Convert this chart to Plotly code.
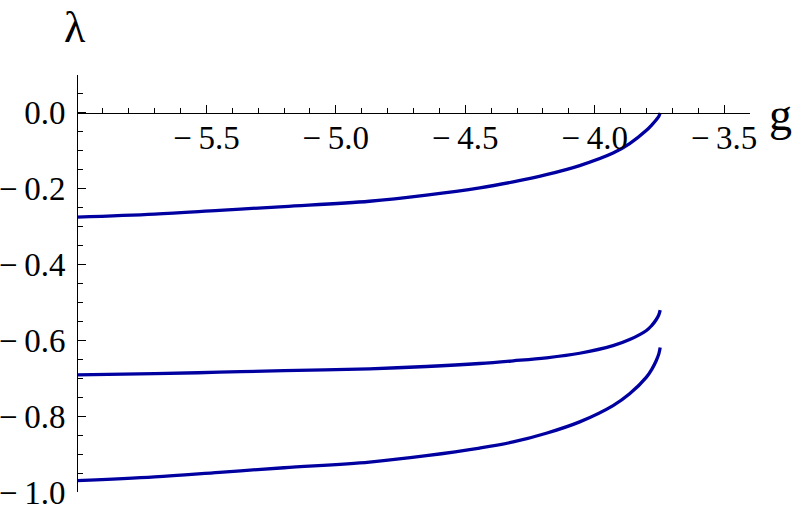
import plotly.graph_objects as go

# Data
g_vals = [-6.0, -5.7, -5.45, -5.2, -4.87, -4.65, -4.444, -4.315, -4.187,
          -4.058, -3.929, -3.865, -3.800, -3.780, -3.762, -3.752, -3.747]

lam1 = [-0.275, -0.267, -0.257, -0.247, -0.233, -0.217, -0.198, -0.182, -0.163,
        -0.139, -0.106, -0.081, -0.046, -0.032, -0.018, -0.009, 0.0]
lam2 = [-0.691, -0.688, -0.684, -0.680, -0.675, -0.669, -0.661, -0.654, -0.646,
        -0.634, -0.614, -0.598, -0.574, -0.561, -0.545, -0.532, -0.520]
lam3 = [-0.970, -0.960, -0.948, -0.936, -0.921, -0.904, -0.884, -0.868, -0.845,
        -0.815, -0.772, -0.741, -0.697, -0.677, -0.653, -0.635, -0.619]

x_tickvals = [-5.5, -5.0, -4.5, -4.0, -3.5]
x_ticktext = ["\u2212\u20095.5", "\u2212\u20095.0", "\u2212\u20094.5", "\u2212\u20094.0", "\u2212\u20093.5"]
y_tickvals = [0.0, -0.2, -0.4, -0.6, -0.8, -1.0]
y_ticktext = ["0.0", "\u2212\u20090.2", "\u2212\u20090.4", "\u2212\u20090.6", "\u2212\u20090.8", "\u2212\u20091.0"]

x_range = [-6.0, -3.4]
y_range = [-1.0, 0.1]

color = "#0000a0"
font_family = "Times New Roman, Liberation Serif, serif"

fig = go.Figure()
for ly in [lam1, lam2, lam3]:
    fig.add_trace(go.Scatter(x=g_vals, y=ly, mode="lines",
                             line=dict(color=color, width=3.3, shape="spline", smoothing=1.0),
                             hoverinfo="skip", showlegend=False))

x_pos = (0 - y_range[0]) / (y_range[1] - y_range[0])

fig.update_layout(
    width=797, height=512,
    margin=dict(l=77, r=47, t=75, b=20, pad=0, autoexpand=False),
    paper_bgcolor="white", plot_bgcolor="white",
    font=dict(family=font_family, color="black", size=33),
    xaxis=dict(range=x_range, anchor="free", position=x_pos,
               showline=True, linecolor="black", linewidth=1,
               showgrid=False, zeroline=False, automargin=False,
               tickvals=x_tickvals, ticktext=x_ticktext,
               ticks="inside", ticklen=8, tickcolor="black", tickwidth=1,
               minor=dict(dtick=0.1, tick0=-6.0, ticks="inside", ticklen=5,
                          tickcolor="black", tickwidth=1),
               ticklabeloverflow="allow",
               tickfont=dict(family=font_family, size=33), ticklabelstandoff=-5),
    yaxis=dict(range=y_range, anchor="free", position=0,
               showline=True, linecolor="black", linewidth=1,
               showgrid=False, zeroline=False, automargin=False,
               tickvals=y_tickvals, ticktext=y_ticktext,
               ticks="inside", ticklen=8, tickcolor="black", tickwidth=1,
               minor=dict(dtick=0.05, tick0=0.0, ticks="inside", ticklen=5,
                          tickcolor="black", tickwidth=1),
               ticklabeloverflow="allow",
               tickfont=dict(family=font_family, size=33), ticklabelstandoff=5),
    annotations=[
        dict(text="\u03bb", xref="paper", yref="paper", x=0.0, y=1.0,
             xshift=-2, yshift=48, xanchor="center", yanchor="middle", showarrow=False,
             font=dict(family=font_family, size=44)),
        dict(text="g", xref="paper", yref="paper", x=1.0, y=x_pos,
             xshift=30, yshift=-2, xanchor="center", yanchor="middle", showarrow=False,
             font=dict(family=font_family, size=46)),
    ],
)

# remove the browser's default 8px body margin so the figure fills the window
fig.write_html("out.html", config={"displayModeBar": False, "staticPlot": True},
               post_script="document.body.style.margin='0';")
